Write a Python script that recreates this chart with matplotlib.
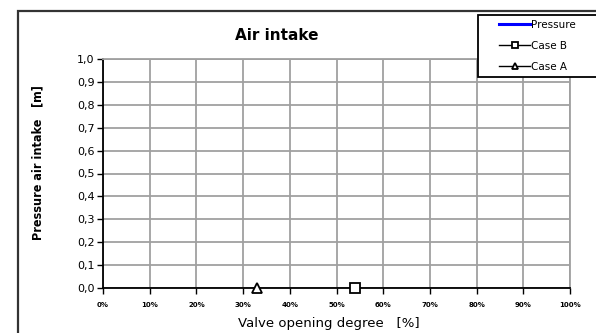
import matplotlib
matplotlib.use("Agg")
import matplotlib.pyplot as plt
from matplotlib.patches import Rectangle
from matplotlib.ticker import FuncFormatter

# Series data
pressure_x = []
pressure_y = []
case_b_x = [54]
case_b_y = [0.0]
case_a_x = [33]
case_a_y = [0.0]

x_ticks = list(range(0, 101, 10))
y_ticks = [i / 10 for i in range(0, 11)]

W, H = 596, 333
fig = plt.figure(figsize=(W / 100, H / 100), dpi=100)
fig.patch.set_facecolor("white")

# Outer chart frame
fig.patches.append(Rectangle((18 / W, -0.1), 1.2, 1 - 11 / H + 0.1,
                             transform=fig.transFigure, fill=False,
                             edgecolor="#333333", linewidth=1.6))

ax = fig.add_axes([103 / W, 1 - 288 / H, (570 - 103) / W, (288 - 59) / H])
ax.set_xlim(0, 100)
ax.set_ylim(0, 1.0)

l_p, = ax.plot(pressure_x, pressure_y, color="blue", lw=2.2, label="Pressure")
l_b, = ax.plot(case_b_x, case_b_y, color="black", lw=1, marker="s", ms=6.5,
               mfc="white", mec="black", mew=1.3, label="Case B",
               clip_on=False, zorder=5)
l_a, = ax.plot(case_a_x, case_a_y, color="black", lw=1, marker="^", ms=6.5,
               mfc="white", mec="black", mew=1.3, label="Case A",
               clip_on=False, zorder=5)

ax.set_xticks(x_ticks)
ax.set_yticks(y_ticks)
ax.xaxis.set_major_formatter(FuncFormatter(lambda v, p: f"{int(v)}%"))
ax.yaxis.set_major_formatter(FuncFormatter(lambda v, p: f"{v:.1f}".replace(".", ",")))
ax.grid(True, color="#a0a0a0", lw=1.3)
ax.set_axisbelow(True)
for s in ["top", "right"]:
    ax.spines[s].set_color("#a0a0a0")
    ax.spines[s].set_linewidth(1.3)
for s in ["left", "bottom"]:
    ax.spines[s].set_color("black")
    ax.spines[s].set_linewidth(1.3)
ax.tick_params(axis="both", direction="out", length=4, width=1, color="black")
ax.tick_params(axis="x", labelsize=5, pad=6)
ax.tick_params(axis="y", labelsize=8, pad=2)
for lab in ax.get_xticklabels():
    lab.set_fontweight("bold")

fig.text(277 / W, 1 - 35 / H, "Air intake", ha="center", va="center",
         fontsize=11, fontweight="bold")
fig.text(329 / W, 1 - 324 / H, "Valve opening degree   [%]", ha="center",
         va="center", fontsize=9.5)
fig.text(38 / W, 1 - 163 / H, "Pressure air intake   [m]", ha="center",
         va="center", rotation=90, fontsize=9, fontweight="bold",
         fontstretch="condensed", family="DejaVu Sans Condensed")

# Legend box, running off the right edge like the frame
fig.patches.append(Rectangle((478 / W, 1 - 77 / H), 0.3, (77 - 15) / H,
                             transform=fig.transFigure, fill=True,
                             facecolor="white", edgecolor="black",
                             linewidth=1.3, zorder=10))
leg = fig.legend(handles=[l_p, l_b, l_a], loc="upper left",
                 bbox_to_anchor=(497 / W, 1 - 18 / H),
                 bbox_transform=fig.transFigure, fontsize=7.5, frameon=False,
                 handlelength=3.0, borderpad=0.2, labelspacing=1.05,
                 handletextpad=0.1, borderaxespad=0)
leg.set_zorder(11)
for h in leg.legend_handles:
    h.set_markersize(4)

fig.savefig("out.png", dpi=100)
